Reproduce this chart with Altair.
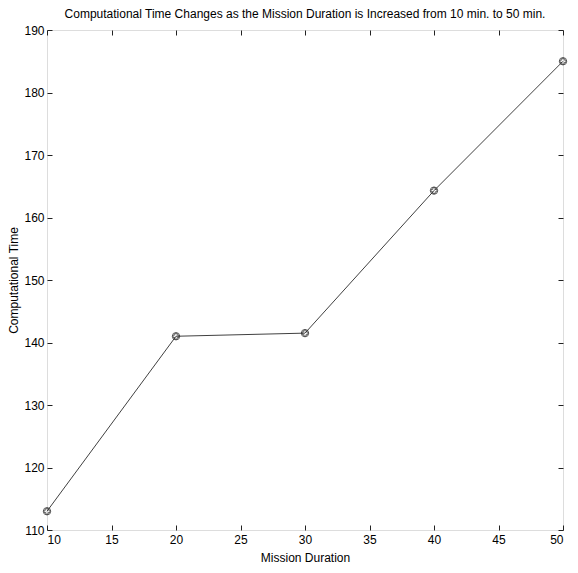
import altair as alt
import pandas as pd

durations = [10, 20, 30, 40, 50]
comp_times = [113, 141, 141.5, 164.3, 185]
x_ticks = [10, 15, 20, 25, 30, 35, 40, 45, 50]
y_ticks = [110, 120, 130, 140, 150, 160, 170, 180, 190]

df = pd.DataFrame({"duration": durations, "time": comp_times})

FONT = "Liberation Sans"
INK = "#222222"

xs = alt.Scale(domain=[10, 50], nice=False, zero=False)
ys = alt.Scale(domain=[110, 190], nice=False, zero=False)

x_axis = alt.Axis(values=x_ticks, title="Mission Duration", domain=False, grid=False,
                  tickSize=5, offset=-5, labelPadding=4, labelFontSize=12, titleFontSize=12,
                  labelFont=FONT, titleFont=FONT, titleFontWeight="normal", titlePadding=7,
                  labelColor="black", titleColor="black", tickColor=INK)
y_axis = alt.Axis(values=y_ticks, title="Computational Time", domain=False, grid=False,
                  tickSize=5, offset=-5, labelPadding=3, labelFontSize=12, titleFontSize=12,
                  labelFont=FONT, titleFont=FONT, titleFontWeight="normal", titlePadding=3,
                  labelColor="black", titleColor="black", tickColor=INK)

base = alt.Chart(df).encode(
    x=alt.X("duration:Q", scale=xs, axis=x_axis),
    y=alt.Y("time:Q", scale=ys, axis=y_axis),
)

line = base.mark_line(color="#404040", strokeWidth=1)
circles = base.mark_point(shape="circle", size=55, color="#222222", strokeWidth=1, filled=False)
crosses = base.mark_point(shape="cross", size=35, color="#222222", strokeWidth=1, filled=False)

main = alt.layer(line, circles, crosses)

top_right = alt.Chart(df).mark_point(opacity=0).encode(
    x=alt.X("duration:Q", scale=xs, axis=alt.Axis(orient="top", values=x_ticks, labels=False, title=None,
                                                   domain=False, grid=False, tickSize=5, offset=-5, tickColor=INK)),
    y=alt.Y("time:Q", scale=ys, axis=alt.Axis(orient="right", values=y_ticks, labels=False, title=None,
                                               domain=False, grid=False, tickSize=5, offset=-5, tickColor=INK)),
)

chart = alt.layer(main, top_right).resolve_axis(
    x="independent", y="independent"
).properties(
    width=516,
    height=500,
    autosize=alt.AutoSizeParams(type="none"),
    padding={"left": 39, "top": 22, "right": 7, "bottom": 35},
    title=alt.TitleParams(
        "Computational Time Changes as the Mission Duration is Increased from 10 min. to 50 min.",
        fontSize=12, font=FONT, fontWeight="normal", color="black", offset=3, anchor="middle",
    ),
).configure_view(stroke="#333333", strokeWidth=1).configure(background="white")

chart.save("out.html", embed_options={"renderer": "svg", "actions": False})
